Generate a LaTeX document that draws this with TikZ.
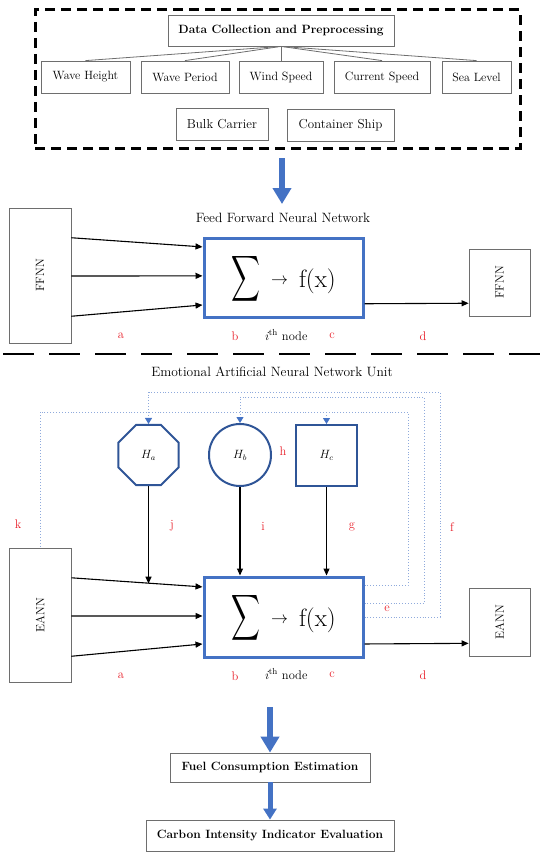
\documentclass[tikz,border=0pt]{standalone}
\usepackage{graphicx}
\usetikzlibrary{arrows.meta,shapes.geometric,calc}
\definecolor{blueA}{HTML}{4472C4}
\definecolor{blueD}{HTML}{2F5597}
\definecolor{blueL}{HTML}{8FAADC}
\definecolor{redL}{HTML}{E8202A}
\definecolor{grayB}{HTML}{6E6E6E}
\newcommand{\neuroncontent}{%
  \raisebox{-9pt}[0pt][0pt]{\scalebox{2.0}[3.2]{$\displaystyle\sum$}}\hspace{11pt}%
  \raisebox{-6.75pt}[0pt][0pt]{\scalebox{1.7}{$\rightarrow$}}\hspace{11pt}%
  \raisebox{-9.5pt}[0pt][0pt]{\fontsize{25}{25}\selectfont f(x)}}
\begin{document}
\begin{tikzpicture}[x=1pt,y=-1pt,
  graybox/.style={draw=grayB, line width=0.8pt, inner sep=0pt, rectangle},
  rowtext/.style={font=\fontsize{12}{14}\selectfont},
  bigtext/.style={font=\fontsize{13}{15}\selectfont},
  titletext/.style={font=\fontsize{13.5}{16}\selectfont},
  boldtext/.style={font=\fontsize{12}{14}\selectfont\bfseries},
  neuron/.style={draw=blueA, line width=3pt, minimum width=159pt, inner sep=0pt, rectangle},
  hshape/.style={draw=blueD, line width=2pt, inner sep=0pt, font=\fontsize{12}{14}\selectfont},
  redlab/.style={text=redL, font=\fontsize{12.5}{14}\selectfont, inner sep=0pt},
  plainlab/.style={font=\fontsize{12.5}{14}\selectfont, inner sep=0pt},
  conn/.style={draw=black, line width=1.1pt, -{Triangle[length=7pt,width=6pt]}},
  fb/.style={draw=blueL, line width=0.9pt, dotted},
  fbarrow/.style={draw=blueL, line width=0.9pt, dotted, -{Triangle[length=6pt,width=7pt,color=blueA]}},
  blockarrow/.style={draw=blueA, line width=6pt, -{Triangle[length=16pt,width=18pt]}},
  blockarrowsm/.style={draw=blueA, line width=5pt, -{Triangle[length=11pt,width=13pt]}},
  ]
\useasboundingbox (0,0) rectangle (550,856);

% ---------------- top data block ----------------
\node[draw=black, line width=3pt, dash pattern=on 10pt off 6pt, minimum width=485pt, minimum height=138pt, inner sep=0pt] (frame) at (277.5,79) {};
\node[graybox, boldtext, minimum width=226pt, minimum height=31pt] (dc) at (281,30.5) {Data Collection and Preprocessing};
\node[graybox, rowtext, minimum width=89pt, minimum height=32pt] (wh) at (85.5,77) {Wave Height};
\node[graybox, rowtext, minimum width=88pt, minimum height=32pt] (wp) at (185,77) {Wave Period};
\node[graybox, rowtext, minimum width=84pt, minimum height=32pt] (ws) at (281,77) {Wind Speed};
\node[graybox, rowtext, minimum width=96pt, minimum height=32pt] (cs) at (382,77) {Current Speed};
\node[graybox, rowtext, minimum width=69pt, minimum height=32pt] (sl) at (476.5,77) {Sea Level};
\node[graybox, bigtext, minimum width=92pt, minimum height=32pt] (bc) at (222,124) {Bulk Carrier};
\node[graybox, bigtext, minimum width=107pt, minimum height=32pt] (csh) at (340.5,125) {Container Ship};
\foreach \t in {wh,wp,ws,cs,sl} \draw[grayB, line width=0.8pt] (dc.south) -- (\t.north);

\coordinate (a1s) at (282,158);
\coordinate (a1e) at (282,204);
\draw[blockarrow] (a1s) -- (a1e);

% ---------------- FFNN ----------------
\node[titletext] (fftitle) at (283,218) {Feed Forward Neural Network};
\node[graybox, minimum width=62pt, minimum height=135pt] (ffnnL) at (40,275.5) {};
\node[rotate=90, rowtext] (ffnnLt) at (ffnnL.center) {FFNN};
\node[neuron, minimum height=79pt] (mainF) at (283.5,277.5) {\neuroncontent};
\node[graybox, minimum width=61pt, minimum height=67pt] (ffnnR) at (499.5,282.5) {};
\node[rotate=90, rowtext] (ffnnRt) at (ffnnR.center) {FFNN};
\draw[conn] ($(ffnnL.north east)!0.222!(ffnnL.south east)$) -- ($(mainF.north west)!0.127!(mainF.south west)$);
\draw[conn] ($(ffnnL.north east)!0.504!(ffnnL.south east)$) -- ($(mainF.north west)!0.48!(mainF.south west)$);
\draw[conn] ($(ffnnL.north east)!0.8!(ffnnL.south east)$) -- ($(mainF.north west)!0.835!(mainF.south west)$);
\draw[conn] ($(mainF.north east)!0.82!(mainF.south east)$) -- ($(ffnnR.north west)!0.806!(ffnnR.south west)$);
\node[redlab] (fa) at (121,336) {a};
\node[redlab] (fbl) at (235,336) {b};
\node[plainlab] (fnode) at (286,335) {\textit{i}\textsuperscript{th} node};
\node[redlab] (fc) at (332,336) {c};
\node[redlab] (fd) at (423,336) {d};

% separator
\coordinate (sepL) at (3,354);
\coordinate (sepR) at (540,354);
\draw[black, line width=2pt, dash pattern=on 31pt off 15pt] (sepL) -- (sepR);

% ---------------- EANN ----------------
\node[titletext] (eatitle) at (272,372) {Emotional Artificial Neural Network Unit};
\node[hshape, regular polygon, regular polygon sides=8, minimum size=65pt] (Ha) at (148.5,455) {$H_a$};
\node[hshape, circle, minimum size=62pt] (Hb) at (240,455) {$H_b$};
\node[hshape, rectangle, minimum width=61pt, minimum height=61pt] (Hc) at (326.5,455.5) {$H_c$};

\node[graybox, minimum width=62pt, minimum height=134pt] (eannL) at (40,615) {};
\node[rotate=90, rowtext] (eannLt) at (eannL.center) {EANN};
\node[neuron, minimum height=80pt] (mainE) at (283.5,617) {\neuroncontent};
\node[graybox, minimum width=61pt, minimum height=68pt] (eannR) at (499.5,622) {};
\node[rotate=90, rowtext] (eannRt) at (eannR.center) {EANN};

\coordinate (e1s) at ($(eannL.north east)!0.224!(eannL.south east)$);
\coordinate (e1e) at ($(mainE.north west)!0.1375!(mainE.south west)$);
\draw[conn] (e1s) -- (e1e);
\draw[conn] ($(eannL.north east)!0.507!(eannL.south east)$) -- ($(mainE.north west)!0.4875!(mainE.south west)$);
\draw[conn] ($(eannL.north east)!0.806!(eannL.south east)$) -- ($(mainE.north west)!0.825!(mainE.south west)$);
\draw[conn] ($(mainE.north east)!0.825!(mainE.south east)$) -- ($(eannR.north west)!0.81!(eannR.south west)$);

\coordinate (haend) at ($(e1s)!(Ha.south)!(e1e)$);
\draw[conn] (Ha.south) -- ([yshift=-1pt]Ha.south |- haend);
\draw[conn] (Hb.south) -- (Hb.south |- mainE.north);
\draw[conn] (Hc.south) -- (Hc.south |- mainE.north);

% feedback (dotted) loops
\coordinate (fo) at (440,392);
\coordinate (fm) at (424,397);
\coordinate (fi) at (408,412);
\draw[fbarrow] ($(mainE.north east)!0.5!(mainE.south east)$) -| (fo) -| (Ha.north);
\draw[fbarrow] ($(mainE.north east)!0.3375!(mainE.south east)$) -| (fm) -| (Hb.north);
\draw[fb] ($(mainE.north east)!0.125!(mainE.south east)$) -| (fi) -| (eannL.north);
\draw[fbarrow] (Hc.north |- fi) -- (Hc.north);

\node[redlab] (le) at (387,609) {e};
\node[redlab] (lf) at (452,527) {f};
\node[redlab] (lg) at (352,527) {g};
\node[redlab] (lh) at (283,451) {h};
\node[redlab] (li) at (263,526) {i};
\node[redlab] (lj) at (172,526) {j};
\node[redlab] (lk) at (18,524) {k};
\node[redlab] (ea) at (121,676) {a};
\node[redlab] (eb) at (235,676) {b};
\node[plainlab] (enode) at (286,674) {\textit{i}\textsuperscript{th} node};
\node[redlab] (ec) at (332,675) {c};
\node[redlab] (ed) at (423,675) {d};

% ---------------- outputs ----------------
\node[graybox, boldtext, minimum width=200pt, minimum height=29pt] (fuel) at (270,767.5) {Fuel Consumption Estimation};
\node[graybox, boldtext, minimum width=248pt, minimum height=31pt] (carbon) at (270,835.5) {Carbon Intensity Indicator Evaluation};
\coordinate (a2s) at (270,707);
\draw[blockarrow] (a2s) -- (fuel.north);
\draw[blockarrowsm] (fuel.south) -- (carbon.north);
\end{tikzpicture}
\end{document}
